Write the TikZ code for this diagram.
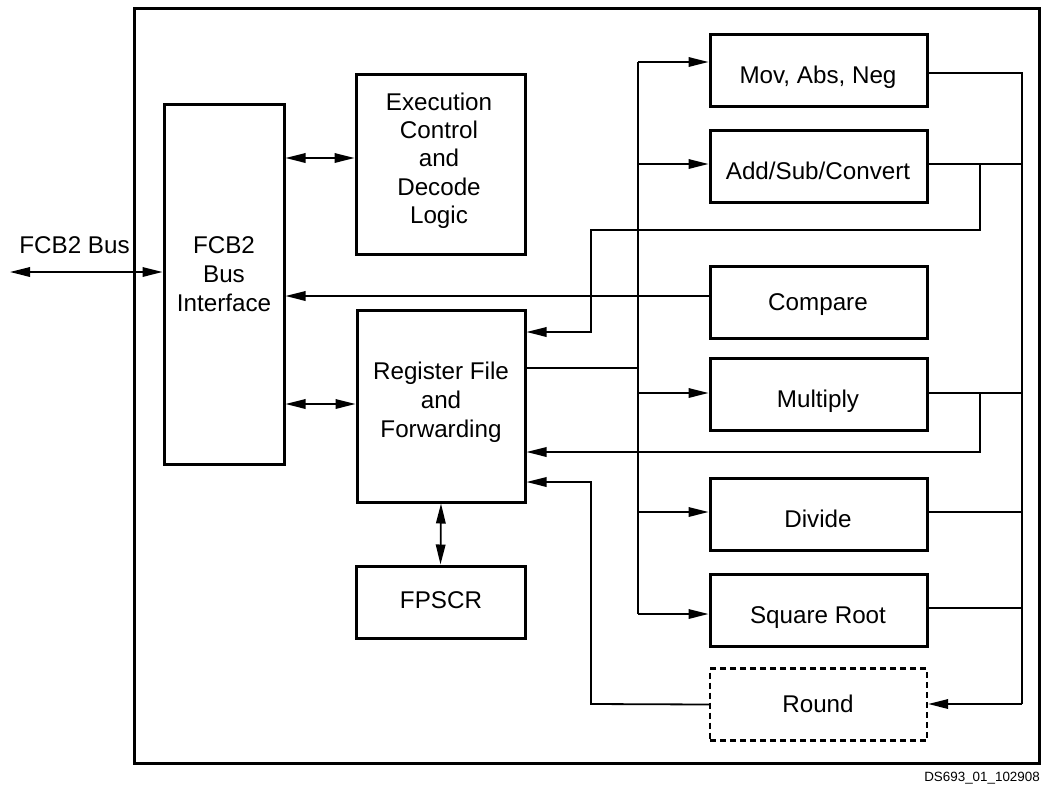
\documentclass[tikz,border=0pt]{standalone}
\usepackage{fontspec}
\setmainfont{Liberation Sans}
\usetikzlibrary{arrows.meta}

\begin{document}
\begin{tikzpicture}[x=1pt,y=-1pt,
  blk/.style={draw,line width=3pt,inner sep=0pt},
  unit/.style={blk,minimum width=217pt,minimum height=72pt},
  optunit/.style={unit,line width=2.4pt,dash pattern=on 6pt off 4pt},
  lbl/.style={anchor=base,inner sep=0pt,font=\fontsize{24.2}{29}\selectfont},
  wire/.style={line width=1.8pt},
  >={Triangle[length=20pt,width=9.5pt]}]

\useasboundingbox (0,0) rectangle (1041,785);

% outer frame
\draw[line width=3pt] (134,8) rectangle (1039,763);

% left column blocks
\node[blk,minimum width=120pt,minimum height=360pt] (fcb)   at (224,284)   {};
\node[blk,minimum width=169pt,minimum height=180pt] (exec)  at (440.5,164) {};
\node[blk,minimum width=168pt,minimum height=192pt] (reg)   at (441,406)   {};
\node[blk,minimum width=169pt,minimum height=72pt]  (fpscr) at (440.5,602) {};

% execution units
\node[unit]    (mov) at (818.5,70)    {};
\node[unit]    (add) at (818.5,166.5) {};
\node[unit]    (cmp) at (818.5,302.5) {};
\node[unit]    (mul) at (818.5,394.5) {};
\node[unit]    (div) at (818.5,514)   {};
\node[unit]    (sqr) at (818.5,610.5) {};
\node[optunit] (rnd) at (818.5,704.5) {};

% block texts
\node[lbl] (tfcb) at (224,253)
  {\begin{tabular}[t]{@{}c@{}}FCB2\\Bus\\Interface\end{tabular}};
\node[lbl,font=\fontsize{24.2}{28.4}\selectfont] (texec) at (439,110)
  {\begin{tabular}[t]{@{}c@{}}Execution\\Control\\and\\Decode\\Logic\end{tabular}};
\node[lbl] (treg) at (441,379)
  {\begin{tabular}[t]{@{}c@{}}Register File\\and\\Forwarding\end{tabular}};
\node[lbl] (tfpscr) at (441,608) {FPSCR};
\node[lbl] (tmov) at (818,83)  {Mov, Abs, Neg};
\node[lbl] (tadd) at (818,179) {Add/Sub/Convert};
\node[lbl] (tcmp) at (818,310) {Compare};
\node[lbl] (tmul) at (818,407) {Multiply};
\node[lbl] (tdiv) at (818,527) {Divide};
\node[lbl] (tsqr) at (818,623) {Square Root};
\node[lbl] (trnd) at (818,712) {Round};
\node[lbl] (tbus) at (74.5,253) {FCB2 Bus};
\node[anchor=base east,inner sep=0pt,font=\fontsize{13.4}{16}\selectfont]
  (tid) at (1040,781.5) {DS693\_01\_102908};

% external bus
\coordinate (busend) at (10,272);
\draw[wire,<->] (busend) -- (busend -| fcb.west);

% interface links
\coordinate (yexec) at (300,158);
\coordinate (yreg)  at (300,404);
\draw[wire,<->] (yexec -| fcb.east) -- (yexec -| exec.west);
\draw[wire,<->] (yreg -| fcb.east) -- (yreg -| reg.west);
\draw[wire,<->] (reg.south) -- (fpscr.north);

% operand distribution bus
\coordinate (b1) at (638,62);
\coordinate (b2) at (638,164);
\coordinate (b3) at (638,368);
\coordinate (b4) at (638,393);
\coordinate (b5) at (638,512);
\coordinate (b6) at (638,614);
\draw[wire] (reg.east |- b3) -- (b3);
\draw[wire,->] (b1) -- (b1 -| mov.west);
\draw[wire] (b1) -- (b6);
\draw[wire,->] (b6) -- (b6 -| sqr.west);
\draw[wire,->] (b2) -- (b2 -| add.west);
\draw[wire,->] (b4) -- (b4 -| mul.west);
\draw[wire,->] (b5) -- (b5 -| div.west);

% result collector into Round
\coordinate (c1) at (1022,73);
\coordinate (c2) at (1022,164);
\coordinate (c4) at (1022,393);
\coordinate (c5) at (1022,512);
\coordinate (c6) at (1022,608);
\coordinate (c7) at (1022,704);
\draw[wire] (c1 -| mov.east) -- (c1) -- (c7);
\draw[wire,->] (c7) -- (c7 -| rnd.east);
\draw[wire] (c2 -| add.east) -- (c2);
\draw[wire] (c4 -| mul.east) -- (c4);
\draw[wire] (c5 -| div.east) -- (c5);
\draw[wire] (c6 -| sqr.east) -- (c6);

% Add/Sub/Convert forwarding path
\coordinate (fa0) at (980,164);
\coordinate (fa1) at (980,230);
\coordinate (fa2) at (591,230);
\coordinate (fa3) at (591,332);
\draw[wire,->] (fa0) -- (fa1) -- (fa2) -- (fa3) -- (fa3 -| reg.east);

% Multiply forwarding path
\coordinate (fm0) at (980,393);
\coordinate (fm1) at (980,452);
\draw[wire,->] (fm0) -- (fm1) -- (fm1 -| reg.east);

% Round result back to register file
\coordinate (fr1) at (591,704);
\coordinate (fr2) at (591,482);
\draw[wire,->] (rnd.west) -- (fr1) -- (fr2) -- (fr2 -| reg.east);

% Compare result to bus interface
\coordinate (cp) at (700,296);
\draw[wire,->] (cp -| cmp.west) -- (cp -| fcb.east);

\end{tikzpicture}
\end{document}
